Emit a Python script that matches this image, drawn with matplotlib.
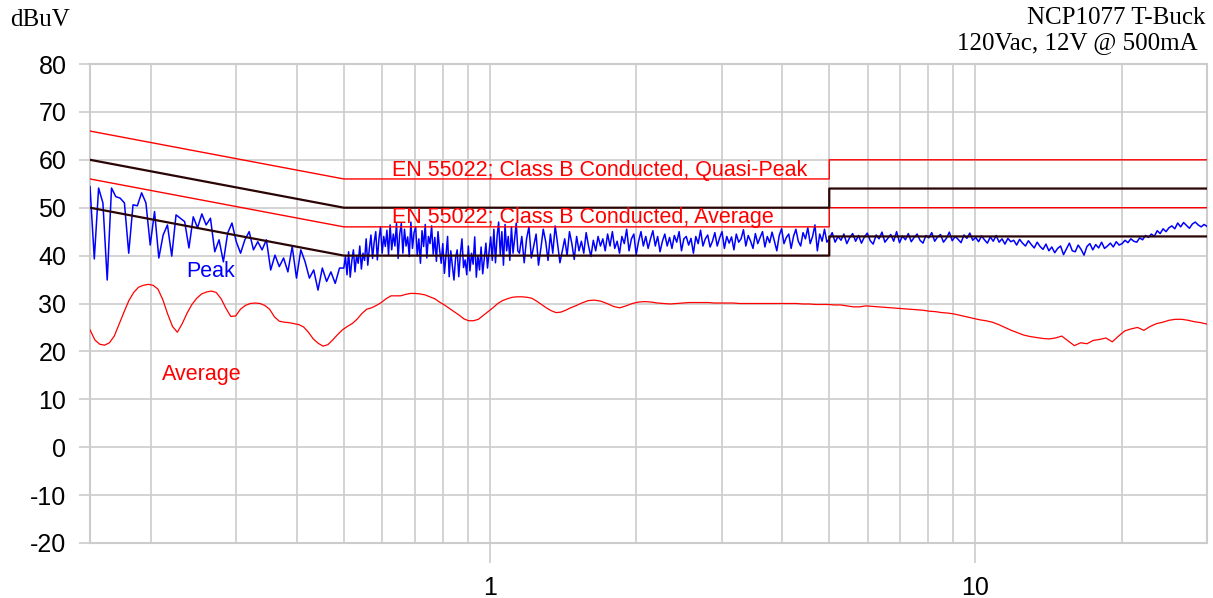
import numpy as np
import matplotlib
matplotlib.use("Agg")
import matplotlib.pyplot as plt
from matplotlib.ticker import FixedLocator, NullFormatter, FixedFormatter

# ---------------- data ----------------
limit_freq = [0.15, 0.5, 5.0, 5.0, 30.0]
qp_limit = [66, 56, 56, 60, 60]
avg_limit = [56, 46, 46, 50, 50]
qp_margin = [60, 50, 50, 54, 54]
avg_margin = [50, 40, 40, 44, 44]

# peak trace, stored per sweep segment (segment edges in MHz, log-spaced samples)
peak_edges = [0.15, 0.5, 1.15, 5.0, 30.0]
peak_seg1 = [54.4, 39.3, 54.1, 51.0, 34.9, 54.1, 52.3, 52.0, 51.0, 40.5, 50.6, 50.4, 53.1, 51.0,
             42.2, 49.2, 39.5, 44.3, 46.4, 39.9, 48.5, 47.8, 47.1, 41.6, 48.1, 45.8, 48.7, 46.4,
             47.8, 40.8, 43.3, 38.7, 44.7, 46.8, 42.9, 40.5, 43.3, 45.0, 41.2, 42.9, 41.2, 43.3,
             37.0, 40.1, 37.7, 39.5, 36.6, 41.9, 35.3, 41.2, 38.7, 35.3, 37.0, 32.8, 37.4, 34.6,
             36.6, 34.2, 37.4]
peak_seg2 = [37.4, 39.8, 36.0, 40.8, 35.5, 38.9, 41.2, 36.6, 40.0, 38.4, 42.0, 37.2, 40.5, 39.0,
             43.5, 38.0, 41.5,
             44.3, 39.4, 42.8, 45.0, 39.1, 43.5, 46.0, 40.5, 44.0, 41.9, 45.3, 40.2, 46.4, 41.2,
             44.5, 42.0, 46.7, 39.4, 44.5,
             46.7, 40.5, 45.5, 42.0, 43.9, 39.8, 47.0, 41.5, 44.8, 46.0, 40.0, 43.5, 38.4, 45.2,
             41.9, 46.5, 39.5, 44.0, 42.5, 46.2, 40.3, 43.8, 38.8, 45.0, 41.2,
             38.4, 42.5, 36.3, 40.0, 44.0, 35.6, 41.0, 37.8, 34.9, 39.5, 41.2, 35.6, 40.3, 43.5,
             37.5, 39.1, 36.0, 42.0, 36.8, 40.5, 38.2, 43.9, 35.5, 40.0, 37.0, 41.8, 36.2, 39.5,
             42.6, 37.4, 40.8,
             43.9, 39.0, 45.5, 38.5, 44.0, 47.0, 40.2, 45.0, 38.0, 46.5, 41.0, 44.0, 39.0, 46.0,
             40.5, 43.5, 46.8, 41.0]
peak_seg3 = [40.5, 44.0, 38.5, 43.5, 46.0, 39.5, 42.0, 44.5, 38.0, 41.5, 45.5, 43.0, 39.0, 44.5,
             40.5, 46.2, 42.5, 38.5, 41.0, 43.5, 40.0, 45.0, 42.5, 39.2, 44.0, 41.0, 43.0, 40.5,
             44.8, 42.0, 39.8, 43.2, 41.0, 44.0, 42.0,
             43.5, 41.0, 44.5, 42.0, 45.0, 41.5, 43.0, 40.5, 44.0, 42.5, 45.5, 41.0, 43.5, 44.5,
             40.2, 43.0, 45.0, 42.0, 44.0, 41.5, 43.5, 45.2, 42.0, 44.0, 40.8, 43.0, 44.5, 42.0,
             43.8, 41.5, 44.2, 42.8, 45.0, 41.0, 43.5, 44.0, 42.2, 43.6, 40.5, 44.0, 42.5, 45.3,
             42.0, 43.5, 44.3, 41.8, 43.0, 44.8, 42.0, 43.7, 45.0, 41.5, 44.0, 42.6, 43.9, 41.2,
             44.5, 42.8, 43.5, 45.4, 42.0, 44.2, 43.0, 41.5, 44.6, 42.5, 43.8, 45.0, 41.8, 44.0,
             42.7, 44.9, 43.0, 41.0, 44.2, 45.6, 42.5, 43.8, 44.5, 41.5, 44.0, 45.5, 43.0, 42.0,
             44.8, 43.5, 45.8, 42.5, 44.0, 46.4, 41.0, 44.5, 43.0, 45.5, 42.8]
peak_seg4 = [43.5, 44.8, 42.8, 44.0, 43.2, 44.5, 42.5, 43.8, 44.6, 43.0, 44.2, 42.6, 43.9, 44.7,
             43.1, 42.4, 44.3, 43.5, 44.9, 42.8, 43.6, 44.4, 43.0, 45.0, 42.7, 44.1, 43.3, 44.6,
             42.9, 43.8, 44.5, 43.2, 42.6, 44.2, 43.7, 44.8, 43.0, 43.9, 44.4, 42.8, 43.6, 44.9,
             43.1, 44.0, 43.4, 42.7, 44.3, 43.6, 44.7, 43.2,
             43.8, 42.9, 44.1, 43.3, 42.6, 43.9, 43.0, 44.2, 42.8, 43.5, 42.4, 43.6, 42.9, 43.2,
             42.2, 43.4, 42.6, 42.0, 43.1,
             42.3, 41.6, 42.8, 41.9, 41.3, 42.4, 41.0, 41.8, 40.6, 41.5, 42.0, 40.2, 41.4, 42.6,
             41.0, 40.8, 42.2, 41.3, 40.1, 41.9, 42.5,
             41.2, 42.3, 41.6, 42.8, 41.5, 42.0, 42.6, 41.8, 42.9, 42.2,
             42.5, 43.2, 42.7, 43.5, 43.0, 42.8, 43.7, 43.3, 44.2, 43.8,
             44.5, 44.0, 45.2, 44.6, 45.6, 45.0, 45.8,
             46.2, 45.6, 46.8, 46.0, 46.9, 46.3, 45.7, 46.6, 47.0, 46.4, 46.0, 46.5, 46.1]

# average trace, log-spaced samples between the segment edges (MHz)
avg_edges = [0.15, 1.5, 30.0]
avg_seg1 = [24.5, 22.4, 21.5, 21.3, 21.8, 23.2, 25.7, 28.2, 30.6, 32.3, 33.4, 33.8, 34.0, 33.8,
            33.0, 30.8, 27.8, 25.2, 24.0, 25.8, 28.0, 29.8, 31.1, 32.0, 32.4, 32.6, 32.3, 31.0,
            29.0, 27.3, 27.4, 28.8, 29.6, 30.0, 30.1, 30.0, 29.6, 28.8, 27.2, 26.3, 26.1, 26.0,
            25.8, 25.6, 25.1, 24.0, 22.6, 21.7, 21.1, 21.4, 22.4, 23.5, 24.5, 25.2, 25.8, 26.7,
            27.9, 28.8, 29.1, 29.6, 30.2, 31.0, 31.6, 31.6, 31.6, 31.9, 32.1, 32.1, 32.0, 31.8,
            31.4, 31.0, 30.3, 29.7, 29.0, 28.3, 27.6, 26.8, 26.4, 26.4, 26.7, 27.5, 28.3, 29.1,
            30.0, 30.6, 31.0, 31.3, 31.4, 31.4, 31.3, 31.1, 30.5, 29.8, 29.1, 28.5, 28.1, 28.2,
            28.6, 29.1]
avg_seg2 = [29.5, 30.1, 30.6, 30.7, 30.5, 30.0, 29.4, 29.1, 29.5, 30.0, 30.3, 30.4, 30.3, 30.1,
            30.0, 29.9, 30.0, 30.1, 30.2, 30.2, 30.2, 30.2, 30.1, 30.1, 30.1, 30.1, 30.0, 30.0,
            30.0, 30.0, 30.0, 30.0, 30.0, 30.0, 30.0, 30.0, 29.9, 29.9, 29.8, 29.8, 29.8, 29.7,
            29.7, 29.5, 29.3, 29.3, 29.5, 29.4, 29.3, 29.2, 29.1, 29.0, 28.9, 28.8, 28.7, 28.6,
            28.4, 28.3, 28.1, 28.0, 27.8, 27.5, 27.2, 26.9, 26.6, 26.4, 26.1, 25.6, 25.0, 24.4,
            23.9, 23.4, 23.1, 22.9, 22.7, 22.6, 22.8, 23.2, 22.2, 21.2, 21.8, 21.6, 22.3, 22.5,
            22.8, 22.0, 23.2, 24.3, 24.7, 25.0, 24.4, 25.2, 25.8, 26.1, 26.5, 26.7, 26.7, 26.5,
            26.2, 26.0, 25.7]

y_ticks = [-20, -10, 0, 10, 20, 30, 40, 50, 60, 70, 80]
x_major = [1, 10]
x_major_labels = ["1", "10"]
x_minor = [0.2, 0.3, 0.4, 0.5, 0.6, 0.7, 0.8, 0.9, 2, 3, 4, 5, 6, 7, 8, 9, 20]


def build(edges, segs):
    fs, vs = [], []
    for i, seg in enumerate(segs):
        last = i == len(segs) - 1
        fs.append(np.geomspace(edges[i], edges[i + 1], len(seg), endpoint=last))
        vs.append(np.asarray(seg, dtype=float))
    return np.concatenate(fs), np.concatenate(vs)


peak_freq, peak_vals = build(peak_edges, [peak_seg1, peak_seg2, peak_seg3, peak_seg4])
avg_freq, avg_vals = build(avg_edges, [avg_seg1, avg_seg2])

# ---------------- figure ----------------
SANS = "Liberation Sans"
SERIF = "Liberation Serif"
GRID = "#cccccc"

fig = plt.figure(figsize=(12.13, 5.98), dpi=100)
ax = fig.add_axes([90 / 1213, 55 / 598, 1117 / 1213, 479 / 598])
ax.set_xscale("log")
ax.set_xlim(0.15, 30)
ax.set_ylim(-20, 80)

ax.plot(peak_freq, peak_vals, color="#0000ff", lw=1.1, zorder=3)
ax.plot(avg_freq, avg_vals, color="#ff0000", lw=0.9, zorder=3)

ax.plot(limit_freq, qp_limit, color="#ff0000", lw=1.0, zorder=4)
ax.plot(limit_freq, avg_limit, color="#ff0000", lw=1.0, zorder=4)
ax.plot(limit_freq, qp_margin, color="#2b0505", lw=1.6, zorder=5)
ax.plot(limit_freq, avg_margin, color="#2b0505", lw=1.6, zorder=5)

# axes styling
ax.xaxis.set_major_locator(FixedLocator(x_major))
ax.xaxis.set_major_formatter(FixedFormatter(x_major_labels))
ax.xaxis.set_minor_locator(FixedLocator(x_minor))
ax.xaxis.set_minor_formatter(NullFormatter())
ax.yaxis.set_major_locator(FixedLocator(y_ticks))
ax.yaxis.set_major_formatter(FixedFormatter([str(v) for v in y_ticks]))

ax.grid(True, which="both", axis="x", color=GRID, lw=1.2, zorder=0)
ax.grid(True, which="major", axis="y", color=GRID, lw=1.2, zorder=0)
ax.set_axisbelow(True)
for s in ax.spines.values():
    s.set_color(GRID)
    s.set_linewidth(1.5)

ax.tick_params(axis="x", which="major", length=14.5, width=1.2, color=GRID, pad=9,
               labelsize=18, labelcolor="black")
ax.tick_params(axis="x", which="minor", length=0)
ax.tick_params(axis="y", which="major", length=8, width=1.2, color=GRID, pad=9,
               labelsize=18, labelcolor="black")
for lab in ax.get_xticklabels() + ax.get_yticklabels():
    lab.set_fontfamily(SANS)

# annotations
ax.text(0.628, 56.6, "EN 55022; Class B Conducted, Quasi-Peak", color="#ff0000",
        fontsize=15.5, family=SANS, va="baseline", ha="left", zorder=6)
ax.text(0.628, 46.8, "EN 55022; Class B Conducted, Average", color="#ff0000",
        fontsize=15.5, family=SANS, va="baseline", ha="left", zorder=6)
ax.text(0.2365, 35.5, "Peak", color="#0000ff", fontsize=15.5, family=SANS,
        va="baseline", ha="left", zorder=6)
ax.text(0.211, 14.0, "Average", color="#ff0000", fontsize=15.5, family=SANS,
        va="baseline", ha="left", zorder=6)

fig.text(10 / 1213, 1 - 26 / 598, "dBuV", family=SERIF, fontsize=18, ha="left", va="baseline")
fig.text(1205 / 1213, 1 - 23.5 / 598, "NCP1077 T-Buck", family=SERIF, fontsize=18,
         ha="right", va="baseline")
fig.text(1198 / 1213, 1 - 49.5 / 598, "120Vac, 12V @ 500mA", family=SERIF, fontsize=18,
         ha="right", va="baseline")

fig.savefig("out.png", dpi=100)
